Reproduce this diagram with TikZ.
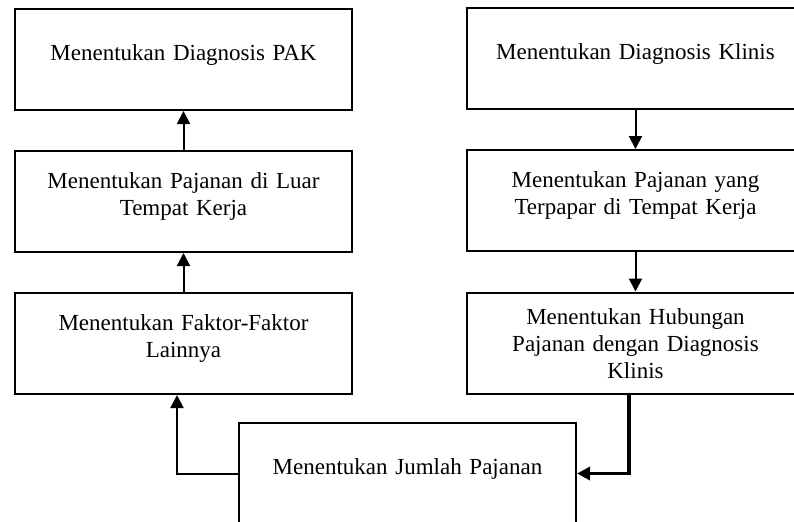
\documentclass[tikz,border=0pt]{standalone}
\usepackage{fontspec}
\setmainfont{Liberation Serif}
\usepackage{tikz}
\usetikzlibrary{
  arrows.meta,
  positioning
}

\begin{document}
\begin{tikzpicture}[x=0.5pt, y=-0.5pt,
  box/.style={draw=black, line width=1pt, text width=168.5pt, align=center,
              inner sep=0pt, font=\fontsize{11.5pt}{13.5pt}\selectfont},
  oneline/.style={box, text height=25.5pt, text depth=25pt},
  twoline/.style={box, text height=18.5pt, text depth=32pt},
  threeline/.style={box, text height=16pt, text depth=34.5pt},
  flow/.style={line width=1pt, -{Triangle[length=6.5pt, width=6.5pt]}},
  thickflow/.style={flow, line width=1.8pt}]
\useasboundingbox (0,0) rectangle (794,521);

\node[oneline] (diagpak) at (183.5,59.5) {Menentukan Diagnosis PAK};
\node[twoline, below=19.5pt of diagpak] (luarkerja) {Menentukan Pajanan di Luar\\Tempat Kerja};
\node[twoline, below=19.5pt of luarkerja] (faktor) {Menentukan Faktor-Faktor\\Lainnya};

\node[oneline] (diagklinis) at (635.5,58.5) {Menentukan Diagnosis Klinis};
\node[twoline, below=19.5pt of diagklinis] (tempatkerja) {Menentukan Pajanan yang\\Terpapar di Tempat Kerja};
\node[threeline, below=19.75pt of tempatkerja] (hubungan) {Menentukan Hubungan\\Pajanan dengan Diagnosis\\Klinis};

\node[oneline] (jumlah) at (407.5,473.5) {Menentukan Jumlah Pajanan};

\draw[flow] (diagklinis) -- (tempatkerja);
\draw[flow] (tempatkerja) -- (hubungan);
\draw[thickflow] ([xshift=-3.25pt]hubungan.south) |- (jumlah.east);
\draw[flow] (jumlah.west) -| ([xshift=-3.25pt]faktor.south);
\draw[flow] (faktor) -- (luarkerja);
\draw[flow] (luarkerja) -- (diagpak);
\end{tikzpicture}
\end{document}
